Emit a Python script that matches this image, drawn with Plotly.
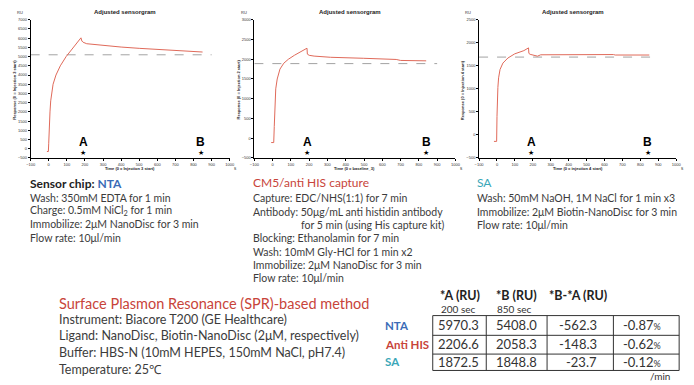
import plotly.graph_objects as go

# ---------------- data ----------------
# Panel 1: NTA
t_nta = [-10, -2, 0, 2, 4, 7, 11, 15, 24, 40, 64, 96, 136, 178, 183, 190, 210, 250, 300, 400, 500, 600, 700, 800, 850]
y_nta = [-150, -150, 300, 1000, 1500, 2000, 2600, 3000, 3500, 4000, 4500, 5000, 5500, 6020, 5850, 5780, 5700, 5660, 5610, 5520, 5450, 5390, 5340, 5290, 5250]
# Panel 2: anti HIS capture
t_his = [-8, 6, 9, 11, 13, 17, 25, 40, 61, 86, 119, 158, 188, 190, 200, 227, 317, 496, 676, 700, 840]
y_his = [-110, -110, 300, 700, 1000, 1250, 1500, 1750, 1900, 2000, 2100, 2200, 2280, 2130, 2100, 2080, 2050, 2025, 1995, 1970, 1960]
# Panel 3: SA
t_sa = [-17, -2, 0, 2, 5, 9, 17, 33, 61, 99, 150, 176, 178, 185, 200, 226, 244, 400, 650, 660, 850]
y_sa = [-140, -140, 400, 800, 1030, 1240, 1420, 1560, 1670, 1760, 1830, 1890, 1770, 1750, 1730, 1710, 1740, 1745, 1745, 1735, 1735]

baseline_levels = [5100, 1890, 1690]
baseline_span = [-100, 900]
y_ranges = [[-500, 7000], [-500, 3000], [-500, 2500]]
y_dticks = [500, 500, 500]
x_range = [-100, 1000]

marker_times = [190, 840]
marker_labels = ["A", "B"]

x_titles = ["Time (0 = Injection 3 start)", "Time (0 = baseline_3)", "Time (0 = injection 4 start)"]
y_titles = ["Response (0 = Injection 3 start)", "Response (0 = Injection 2 start)", "Response (0 = Injection 4 start)"]

row_labels = ["NTA", "Anti HIS", "SA"]
col_a = ["5970.3", "2206.6", "1872.5"]
col_b = ["5408.0", "2058.3", "1848.8"]
col_diff = ["-562.3", "-148.3", "-23.7"]
col_pct = ["-0.87", "-0.62", "-0.12"]
headers = ["*A (RU)", "*B (RU)", "*B-*A (RU)"]
subheaders = ["200 sec", "850 sec", ""]

# ---------------- styling ----------------
W, H = 694, 385
def px(x): return x / W
def py(y): return 1 - y / H

BLUE = "#3b6cb7"
RED = "#c8443a"
TEAL = "#3aa7b8"
GRAY = "#3c3c3c"
CURVE = "#e06a5a"
FONT = "Lato"

x_doms = [(26, 228), (253, 457), (481, 681)]
y_dom = [py(157), py(17)]

fig = go.Figure()
series = [(t_nta, y_nta), (t_his, y_his), (t_sa, y_sa)]
annotations = []
shapes = []

def ann(text, x, y, size, color="#222", family="Arial", xanchor="center", yanchor="middle",
        xref="paper", yref="paper", angle=0):
    annotations.append(dict(text=text, x=x, y=y, xref=xref, yref=yref, showarrow=False,
                            xanchor=xanchor, yanchor=yanchor, textangle=angle,
                            borderpad=0, borderwidth=0,
                            font=dict(size=size, family=family, color=color)))

for i, (tt, yy) in enumerate(series):
    xa = "x" if i == 0 else f"x{i+1}"
    ya = "y" if i == 0 else f"y{i+1}"
    fig.add_trace(go.Scatter(x=baseline_span, y=[baseline_levels[i]] * 2, mode="lines",
                             line=dict(color="#8a8a8a", width=0.8, dash="dash"),
                             xaxis=xa, yaxis=ya, showlegend=False, hoverinfo="skip"))
    fig.add_trace(go.Scatter(x=tt, y=yy, mode="lines", line=dict(color=CURVE, width=1),
                             xaxis=xa, yaxis=ya, showlegend=False))
    axx = dict(domain=[px(x_doms[i][0]), px(x_doms[i][1])], range=x_range, dtick=100,
               showline=True, linecolor="black", linewidth=0.8, ticks="outside", ticklen=2,
               tickwidth=0.6, tickcolor="black", showgrid=False, zeroline=False,
               tickfont=dict(size=4, color="#333", family="Arial"), anchor=ya, fixedrange=True)
    axy = dict(domain=y_dom, range=y_ranges[i], dtick=y_dticks[i],
               showline=True, linecolor="black", linewidth=0.8, ticks="outside", ticklen=2,
               tickwidth=0.6, tickcolor="black", showgrid=False, zeroline=False,
               tickfont=dict(size=4, color="#333", family="Arial"), anchor=xa, fixedrange=True)
    key = "" if i == 0 else str(i + 1)
    fig.update_layout(**{f"xaxis{key}": axx, f"yaxis{key}": axy})

    x0, x1 = x_doms[i]
    ann("<b>Adjusted sensorgram</b>", px((x0 + x1) / 2 - 5), py(9), 6)
    ann("RU", px(x0 - 11), py(10), 4, color="#333")
    ann("s", px(x1 + 6), py(168), 4.5, color="#333")
    ann("<b>" + x_titles[i] + "</b>", px((x0 + x1) / 2), py(167.5), 4)
    ann("<b>" + y_titles[i] + "</b>", px(x0 - 16), py(88), 4, angle=-90)
    for tm, lab in zip(marker_times, marker_labels):
        ann("<b>" + lab + "</b>", tm, py(141), 12, color="black", xref=xa)
        ann("★", tm, py(152), 7, color="black", family="DejaVu Sans", xref=xa)

def txt(s, x, y, size=10.5, color=GRAY, anchor="left"):
    ann(s, px(x), py(y), size, color=color, family=FONT, xanchor=anchor)

# panel descriptions
txt("<b>Sensor chip: </b><span style='color:%s'><b>NTA</b></span>" % BLUE, 25, 183, size=12, color="#222")
txt("Wash: 350mM EDTA for 1 min", 25, 198)
txt("Charge: 0.5mM NiCl<sub>2</sub> for 1 min", 25, 211)
txt("Immobilize: 2μM NanoDisc for 3 min", 25, 224)
txt("Flow rate: 10μl/min", 25, 238)

txt("CM5/anti HIS capture", 252, 182, size=12, color=RED)
txt("Capture: EDC/NHS(1:1) for 7 min", 252, 198)
txt("Antibody: 50μg/mL anti histidin antibody", 252, 212)
txt("for 5 min (using His capture kit)", 300, 225)
txt("Blocking: Ethanolamin for 7 min", 252, 238)
txt("Wash: 10mM Gly-HCl for 1 min x2", 252, 252)
txt("Immobilize: 2μM NanoDisc for 3 min", 252, 265)
txt("Flow rate: 10μl/min", 252, 279)

txt("SA", 479, 182, size=12, color=TEAL)
txt("Wash: 50mM NaOH, 1M NaCl for 1 min x3", 479, 198)
txt("Immobilize: 2μM Biotin-NanoDisc for 3 min", 479, 212)
txt("Flow rate: 10μl/min", 479, 225)

# method description
txt("Surface Plasmon Resonance (SPR)-based method", 55, 304, size=14.5, color=RED)
txt("Instrument: Biacore T200 (GE Healthcare)", 55, 321, size=12.5)
txt("Ligand: NanoDisc, Biotin-NanoDisc (2μM, respectively)", 55, 337, size=12.5)
txt("Buffer: HBS-N (10mM HEPES, 150mM NaCl, pH7.4)", 55, 354, size=12.5)
txt("Temperature: 25℃", 55, 371, size=12.5)

# table
row_colors = [BLUE, RED, TEAL]
row_y = [326.7, 345.5, 363.5]
for lab, c, yy in zip(row_labels, row_colors, row_y):
    txt("<b>" + lab + "</b>", 386, yy, size=11.5, color=c)

hdr_x = [441, 498, 552]
for h, s, hx in zip(headers, subheaders, hdr_x):
    txt("<b>" + h + "</b>", hx, 296, size=12.5, color="#222")
    if s:
        txt(s, hx + 1, 310.5, size=10, color="#333")

for r in range(3):
    txt(col_a[r], 439, row_y[r], size=13, color="#333")
    txt(col_b[r], 498, row_y[r], size=13, color="#333")
    txt(col_diff[r], 601, row_y[r], size=13, color="#333", anchor="right")
    txt(col_pct[r] + "<span style='font-size:9px'>%</span>", 666, row_y[r], size=13, color="#333", anchor="right")
txt("/min", 675, 378, size=10, color="#333", anchor="right")

col_lines = [434, 488.3, 550, 617.3, 684]
row_lines = [316.7, 336.7, 355.7, 372.3]
for cx in col_lines:
    shapes.append(dict(type="line", xref="paper", yref="paper", x0=px(cx), x1=px(cx),
                       y0=py(row_lines[0]), y1=py(row_lines[-1]), line=dict(color="#333", width=1)))
for ry in row_lines:
    shapes.append(dict(type="line", xref="paper", yref="paper", x0=px(col_lines[0]), x1=px(col_lines[-1]),
                       y0=py(ry), y1=py(ry), line=dict(color="#333", width=1)))

fig.update_layout(width=W, height=H, margin=dict(l=0, r=0, t=0, b=0),
                  paper_bgcolor="white", plot_bgcolor="white",
                  annotations=annotations, shapes=shapes, showlegend=False,
                  font=dict(family=FONT))

fig.write_html("out.html", config={"displayModeBar": False},
               post_script="document.body.style.margin='0';document.body.style.overflow='hidden';")
